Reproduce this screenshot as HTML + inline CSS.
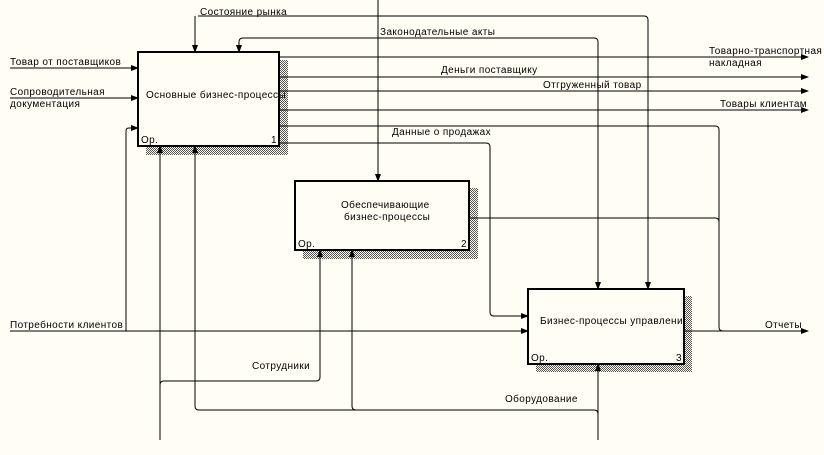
<!DOCTYPE html>
<html><head><meta charset="utf-8"><style>
html,body{margin:0;padding:0;background:#fffdf4;}
svg{display:block;}
text{font-family:"Liberation Sans","DejaVu Sans",sans-serif;font-size:10px;fill:#000;letter-spacing:0.4px;}
</style></head><body>
<svg width="824" height="455" viewBox="0 0 824 455" xmlns="http://www.w3.org/2000/svg">
<defs>
<pattern id="h" width="2" height="2" patternUnits="userSpaceOnUse">
<rect width="2" height="2" fill="#fffdf4"/><rect width="1" height="1" fill="#555"/><rect x="1" y="1" width="1" height="1" fill="#555"/>
</pattern>
<marker id="a" markerWidth="8" markerHeight="8" refX="7" refY="4" orient="auto" markerUnits="userSpaceOnUse">
<path d="M0,1 L8,4 L0,7 Z" fill="#000"/></marker>
</defs>
<rect width="824" height="455" fill="#fffdf4"/>
<rect x="279" y="60" width="9" height="95" fill="url(#h)"/>
<rect x="146" y="146" width="142" height="9" fill="url(#h)"/>
<rect x="469" y="188" width="9" height="71" fill="url(#h)"/>
<rect x="303" y="250" width="175" height="9" fill="url(#h)"/>
<rect x="684" y="296" width="8" height="76" fill="url(#h)"/>
<rect x="536" y="364" width="156" height="8" fill="url(#h)"/>
<g fill="none" stroke="#000" stroke-width="1">
<path d="M10,68 H138" marker-end="url(#a)"/>
<path d="M10,98 H138" marker-end="url(#a)"/>
<path d="M126,331 V131 Q126,128 129,128 H138" marker-end="url(#a)"/>
<path d="M10,331 H528" marker-end="url(#a)"/>
<path d="M195,16 V52" marker-end="url(#a)"/>
<path d="M198,16 H644 Q648,16 648,20 V289" marker-end="url(#a)"/>
<path d="M378,0 V181" marker-end="url(#a)"/>
<path d="M594,38 H243 Q239,38 239,42 V52" marker-end="url(#a)"/>
<path d="M594,38 Q598,38 598,42 V289" marker-end="url(#a)"/>
<path d="M279,57 H808" marker-end="url(#a)"/>
<path d="M279,77 H808" marker-end="url(#a)"/>
<path d="M279,91 H808" marker-end="url(#a)"/>
<path d="M279,110 H808" marker-end="url(#a)"/>
<path d="M279,126 H715 Q719,126 719,130 V327 Q719,331 723,331"/>
<path d="M279,143 H486 Q490,143 490,147 V312 Q490,316 494,316 H528" marker-end="url(#a)"/>
<path d="M469,218 H715 Q719,218 719,222"/>
<path d="M684,331 H808" marker-end="url(#a)"/>
<path d="M160,440 V146" marker-end="url(#a)"/>
<path d="M160,385 Q160,381 164,381 H316 Q320,381 320,377 V250" marker-end="url(#a)"/>
<path d="M195,146 V406 Q195,410 199,410 H594 Q598,410 598,414" />
<path d="M195,406 V146" marker-end="url(#a)"/>
<path d="M352,406 Q352,410 356,410"/>
<path d="M352,406 V250" marker-end="url(#a)"/>
<path d="M598,440 V364" marker-end="url(#a)"/>
</g>
<g fill="#fffdf4" stroke="#000" stroke-width="2">
<rect x="138" y="52" width="141" height="94"/>
<rect x="295" y="181" width="174" height="69"/>
<rect x="528" y="289" width="156" height="75"/>
</g>
<text x="146" y="98">Основные бизнес-процессы</text>
<text x="141" y="143">Ор.</text><text x="271" y="143">1</text>
<text x="341" y="208">Обеспечивающие</text>
<text x="344" y="220">бизнес-процессы</text>
<text x="298" y="247">Ор.</text><text x="461" y="247">2</text>
<text x="540" y="324">Бизнес-процессы управлени</text>
<text x="531" y="361">Ор.</text><text x="676" y="361">3</text>
<text x="200" y="15">Состояние рынка</text>
<text x="380" y="35">Законодательные акты</text>
<text x="10" y="65">Товар от поставщиков</text>
<text x="10" y="95">Сопроводительная</text>
<text x="10" y="107">документация</text>
<text x="10" y="328">Потребности клиентов</text>
<text x="709" y="54">Товарно-транспортная</text>
<text x="709" y="66">накладная</text>
<text x="441" y="73">Деньги поставщику</text>
<text x="543" y="88">Отгруженный товар</text>
<text x="720" y="107">Товары клиентам</text>
<text x="392" y="135">Данные о продажах</text>
<text x="765" y="328">Отчеты</text>
<text x="252" y="369">Сотрудники</text>
<text x="505" y="402">Оборудование</text>
</svg>
</body></html>
